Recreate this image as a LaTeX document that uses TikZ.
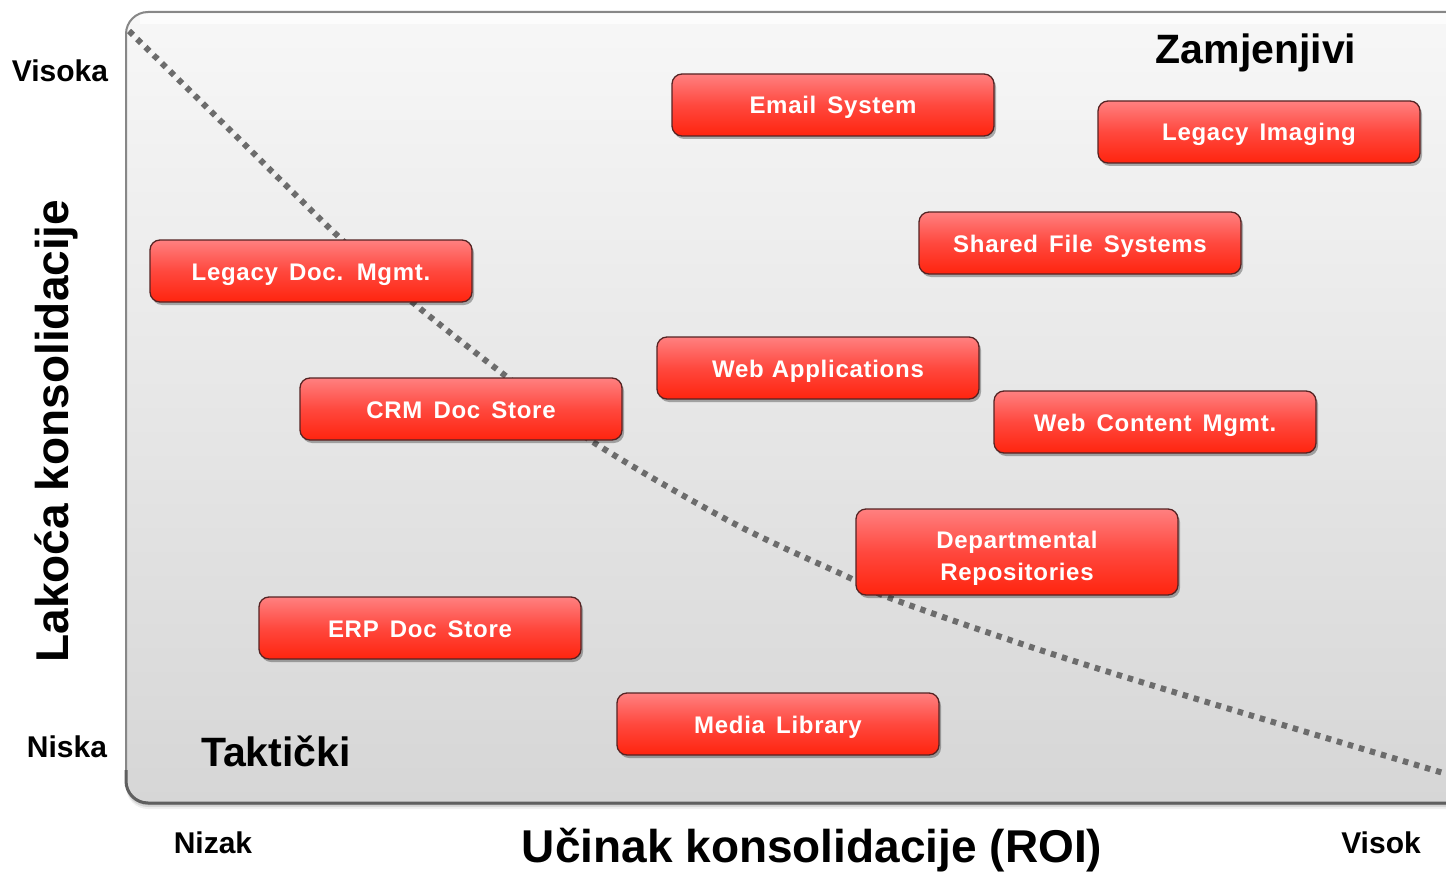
\documentclass[tikz,border=0pt]{standalone}
\usepackage{fontspec}
\setmainfont{Liberation Sans}
\newfontfamily\boxfont{Liberation Sans}[LetterSpace=3.0,WordSpace=1.5]
\usetikzlibrary{shadows}

\definecolor{paneltop}{RGB}{247,247,247}
\definecolor{panelbot}{RGB}{214,214,214}
\definecolor{panelrim}{RGB}{135,135,135}
\definecolor{panelbase}{RGB}{95,95,95}
\definecolor{boxtop}{RGB}{255,128,128}
\definecolor{boxmid}{RGB}{255,72,62}
\definecolor{boxbot}{RGB}{255,36,14}
\definecolor{boxrim}{RGB}{85,35,35}
\definecolor{dotgray}{RGB}{108,108,108}

\tikzset{
  boxtext/.style={text=white, align=center,
    font=\boxfont\bfseries\fontsize{24}{32}\selectfont},
  item/.style={
    rectangle, rounded corners=10pt,
    minimum width=322pt, minimum height=62pt,
    draw=boxrim, line width=1.3pt,
    top color=boxtop, bottom color=boxbot, middle color=boxmid,
    drop shadow={shadow xshift=2pt, shadow yshift=-3pt, opacity=0.3, fill=black},
    boxtext
  },
  oneline/.style={text height=18pt, text depth=0pt},
  axislabel/.style={anchor=base, font=\bfseries\fontsize{30}{36}\selectfont},
  zonelabel/.style={anchor=base, font=\bfseries\fontsize{41}{48}\selectfont},
  axistitle/.style={anchor=base, font=\bfseries\fontsize{46}{54}\selectfont},
  divider/.style={draw=dotgray, line width=6pt, line cap=butt,
    dash pattern=on 5.5pt off 6pt}
}

\begin{document}
\begin{tikzpicture}[x=1pt,y=-1pt]
\useasboundingbox[fill=white] (0,0) rectangle (1446,872);

% panel: soft shadow, shaded body, darker base edge
\foreach \d/\o in {6/0.06,4/0.10,2/0.14}
  \fill[black, opacity=\o, rounded corners=22pt] (126,{12+\d}) rectangle (1500,{803+\d});
\path[top color=paneltop, bottom color=panelbot, rounded corners=22pt]
  (126,12) rectangle (1500,803);
\fill[white, opacity=0.7] (140,14) rectangle (1500,24);
\draw[panelrim, line width=2pt, rounded corners=22pt] (126,12) rectangle (1500,803);
\draw[panelbase, line width=3pt, rounded corners=22pt] (126,770) |- (1500,803);

% divider between the tactical and replaceable zones
\draw[divider] plot[smooth, tension=0.55] coordinates {
  (129,31) (235,135) (340,238) (417,306) (507,377) (593,442)
  (733,523) (850,578) (890,598) (1040,650) (1200,700) (1460,778)};

% zone captions
\node[zonelabel] (zam) at (1256,64) {Zamjenjivi};
\node[zonelabel] (tak) at (276,766) {Takti\v{c}ki};

% systems
\node[item, oneline] (email)  at (833,105)  {Email System};
\node[item, oneline] (limg)   at (1259,132) {Legacy Imaging};
\node[item, oneline] (sfs)    at (1080,243) {Shared File Systems};
\node[item, oneline] (ldm)    at (311,271)  {Legacy Doc. Mgmt.};
\node[item, oneline] (webapp) at (818,368)  {Web\hspace{-3pt} Applications};
\node[item, oneline] (crm)    at (461,409)  {CRM Doc Store};
\node[item, oneline] (wcm)    at (1155,422) {Web Content Mgmt.};
\node[item, minimum height=86pt] (dept) at (1017,552) {};
\node[boxtext] (depttext) at (1017,558) {Departmental\\Repositories};
\node[item, oneline] (erp)    at (420,628)  {ERP Doc Store};
\node[item, oneline] (media)  at (778,724)  {Media Library};

% axis ends
\node[axislabel] (vis)  at (60,82)    {Visoka};
\node[axislabel] (nis)  at (67,757)   {Niska};
\node[axislabel] (niz)  at (213,853)  {Nizak};
\node[axislabel] (vsk)  at (1381,853) {Visok};

% axis titles
\node[axistitle] (xt) at (812,862) {U\v{c}inak konsolidacije (ROI)};
\node[axistitle, rotate=90] (yt) at (68,431) {Lako\'{c}a konsolidacije};
\end{tikzpicture}
\end{document}
